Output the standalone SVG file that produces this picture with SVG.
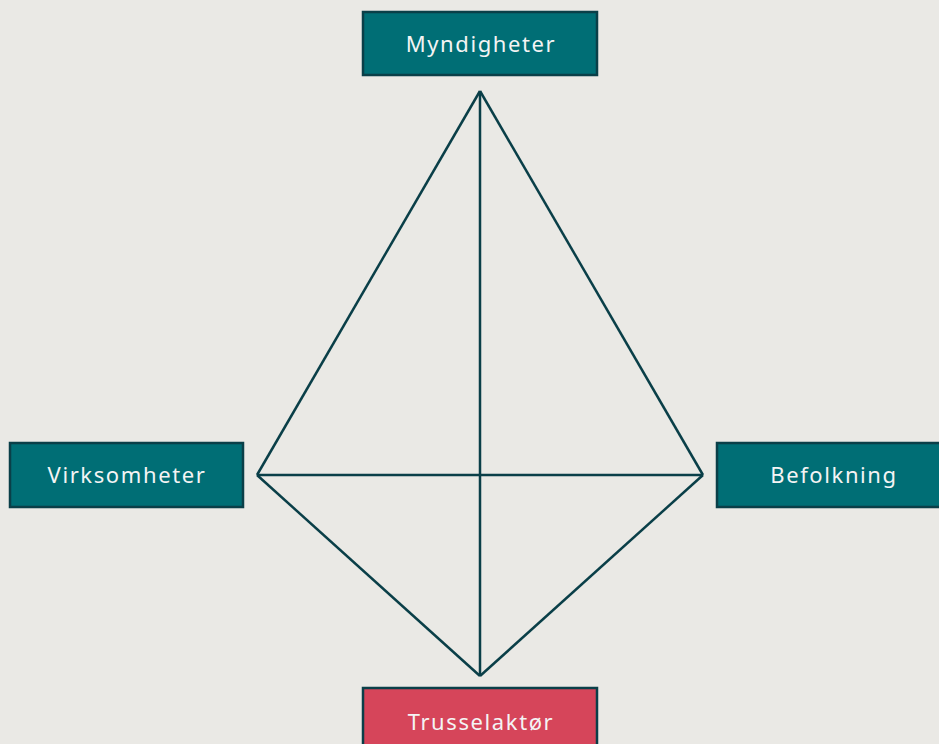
<svg xmlns="http://www.w3.org/2000/svg" width="939" height="744" viewBox="0 0 939 744">
<style>
.bg{fill:#eae9e5}
.box{fill:#006e75;stroke:#0a3f48;stroke-width:2.5}
.red{fill:#d6455a;stroke:#0a3f48;stroke-width:2.5}
.lbl{font-family:"Noto Sans","Open Sans",sans-serif;font-size:22px;letter-spacing:1.6px;fill:#f4f4f4;text-anchor:middle;dominant-baseline:central}
.edge{stroke:#0a3f48;stroke-width:2.5;fill:none;stroke-linejoin:miter}
</style>
<rect class="bg" x="0" y="0" width="939" height="744"/>
<g id="connectors">
<line class="edge" x1="480" y1="91" x2="257" y2="475"/>
<line class="edge" x1="480" y1="91" x2="703" y2="475"/>
<line class="edge" x1="480" y1="91" x2="480" y2="676"/>
<line class="edge" x1="257" y1="475" x2="703" y2="475"/>
<line class="edge" x1="257" y1="475" x2="480" y2="676"/>
<line class="edge" x1="703" y1="475" x2="480" y2="676"/>
</g>
<g id="myndigheter">
<rect class="box" x="363" y="12" width="234" height="63"/>
<text class="lbl" x="481" y="43">Myndigheter</text>
</g>
<g id="virksomheter">
<rect class="box" x="10" y="443" width="233" height="64"/>
<text class="lbl" x="127" y="474">Virksomheter</text>
</g>
<g id="befolkning">
<rect class="box" x="717" y="443" width="234" height="64"/>
<text class="lbl" x="834" y="474">Befolkning</text>
</g>
<g id="trusselaktor">
<rect class="red" x="363" y="688" width="234" height="64"/>
<text class="lbl" x="481" y="721">Trusselaktør</text>
</g>
</svg>
